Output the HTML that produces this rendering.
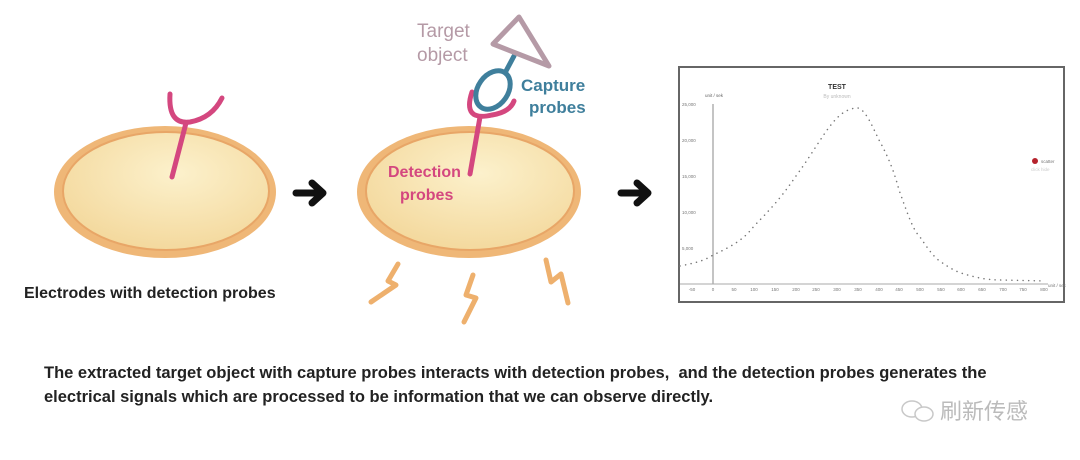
<!DOCTYPE html>
<html><head><meta charset="utf-8"><style>
body{margin:0;background:#fff;width:1080px;height:460px;overflow:hidden;font-family:"Liberation Sans","Noto Sans CJK SC",sans-serif}
svg{position:absolute;left:0;top:0}
.t{position:absolute;left:44px;top:361px;font-size:16.5px;font-weight:bold;color:#222;line-height:24px;white-space:nowrap}
</style></head><body>
<svg width="1080" height="460" viewBox="0 0 1080 460">
<defs><radialGradient id="g" cx="0.55" cy="0.35" r="0.7"><stop offset="0" stop-color="#fcf1cc"/><stop offset="1" stop-color="#f3d79a"/></radialGradient></defs>
<ellipse cx="165" cy="192" rx="111" ry="66" fill="#efb777"/>
<ellipse cx="166" cy="191" rx="103" ry="59" fill="url(#g)" stroke="#e8a667" stroke-width="2"/>
<path d="M170 94 Q168 125 190 122 Q212 118 222 98" fill="none" stroke="#d4477f" stroke-width="5" stroke-linecap="round"/>
<path d="M186 123 L172 177" stroke="#d4477f" stroke-width="5" stroke-linecap="round"/>
<text x="24" y="298" font-size="16" font-weight="bold" fill="#222">Electrodes with detection probes</text>
<g stroke="#111" stroke-width="7" stroke-linecap="round" stroke-linejoin="round" fill="none">
<path d="M296 193 H322 M312 183 L323 193 L312 203"/>
<path d="M621 193 H647 M637 183 L648 193 L637 203"/>
</g>
<ellipse cx="469" cy="192" rx="112" ry="66" fill="#efb777"/>
<ellipse cx="470" cy="191" rx="104" ry="59" fill="url(#g)" stroke="#e8a667" stroke-width="2"/>
<path d="M472 92 Q462 122 492 115 Q510 112 514 101" fill="none" stroke="#d4477f" stroke-width="5" stroke-linecap="round"/>
<path d="M480 117 L470 174" stroke="#d4477f" stroke-width="5" stroke-linecap="round"/>
<ellipse cx="493" cy="90" rx="15" ry="21" transform="rotate(35 493 90)" fill="none" stroke="#3f7f9c" stroke-width="5"/>
<path d="M506 71 L514 56" stroke="#3f7f9c" stroke-width="5" stroke-linecap="round"/>
<polygon points="493,44 519,17 549,66" fill="none" stroke="#b59aa6" stroke-width="5" stroke-linejoin="round"/>
<text x="417" y="37" font-size="19" fill="#b59aa6">Target</text>
<text x="417" y="61" font-size="19" fill="#b59aa6">object</text>
<text x="521" y="91" font-size="17" font-weight="bold" fill="#3f7f9c">Capture</text>
<text x="529" y="113" font-size="17" font-weight="bold" fill="#3f7f9c">probes</text>
<text x="388" y="177" font-size="16" font-weight="bold" fill="#d4477f">Detection</text>
<text x="400" y="200" font-size="16" font-weight="bold" fill="#d4477f">probes</text>
<g stroke="#eeb06d" stroke-width="5" stroke-linecap="round" stroke-linejoin="round" fill="none">
<path d="M398 264 L388 281 L396 285 L371 302"/>
<path d="M473 275 L466 295 L476 298 L464 322"/>
<path d="M546 260 L551 282 L561 274 L568 303"/>
</g>
<rect x="679" y="67" width="385" height="235" fill="#fff" stroke="#666" stroke-width="2"/>
<text x="837" y="89" font-size="7" font-weight="bold" fill="#333" text-anchor="middle">TEST</text>
<text x="837" y="98" font-size="5" fill="#bbb" text-anchor="middle">By unknown</text>
<text x="705" y="97" font-size="4.5" fill="#666">unit / sek</text>
<line x1="713" y1="104" x2="713" y2="284" stroke="#888" stroke-width="1"/>
<line x1="680" y1="284" x2="1048" y2="284" stroke="#aaa" stroke-width="1"/>
<g font-size="4.5" fill="#777">
<text x="682" y="106">25,000</text><text x="682" y="142">20,000</text><text x="682" y="178">15,000</text><text x="682" y="214">10,000</text><text x="682" y="250">5,000</text>
</g>
<g font-size="4.5" fill="#777" text-anchor="middle">
<text x="692" y="291">-50</text><text x="713" y="291">0</text><text x="734" y="291">50</text><text x="754" y="291">100</text><text x="775" y="291">150</text><text x="796" y="291">200</text><text x="816" y="291">250</text><text x="837" y="291">300</text><text x="858" y="291">350</text><text x="879" y="291">400</text><text x="899" y="291">450</text><text x="920" y="291">500</text><text x="941" y="291">550</text><text x="961" y="291">600</text><text x="982" y="291">650</text><text x="1003" y="291">700</text><text x="1023" y="291">750</text><text x="1044" y="291">800</text>
</g>
<text x="1048" y="287" font-size="4.5" fill="#777">unit / sec</text>
<path d="M680 266 C700 262 705 260 713 255 C735 245 745 238 754 226 C775 205 785 192 796 176 C815 150 825 130 837 118 C845 110 852 108 858 108 C866 110 873 128 879 140 C890 160 895 175 899 190 C908 215 913 230 920 237 C930 252 935 258 941 262 C950 268 955 271 961 273 C980 279 990 280 1003 280 L1044 281" fill="none" stroke="#777" stroke-width="1.5" stroke-dasharray="0.1 5.5" stroke-linecap="round"/>
<circle cx="1035" cy="161" r="3" fill="#b5222c"/>
<text x="1041" y="163" font-size="4.5" fill="#777">scatter</text>
<text x="1031" y="171" font-size="4.5" fill="#ccc">click hide</text>
<g stroke="#c8c8c8" stroke-width="1.5" fill="none">
<ellipse cx="912" cy="409" rx="10" ry="8"/><ellipse cx="924" cy="414" rx="9" ry="7" fill="#fff"/>
</g>
<text x="940" y="419" font-size="22" fill="#bbb" font-family="'Noto Sans CJK SC',sans-serif">刷新传感</text>
</svg>
<div class="t">The extracted target object with capture probes interacts with detection probes,&nbsp; and the detection probes generates the<br>electrical signals which are processed to be information that we can observe directly.</div>
</body></html>
